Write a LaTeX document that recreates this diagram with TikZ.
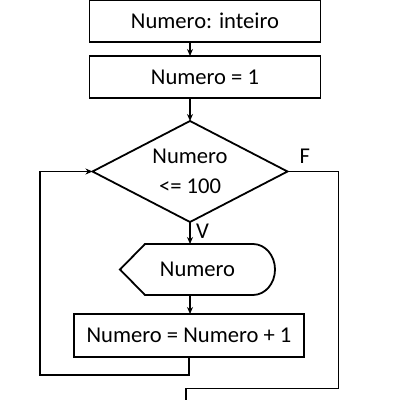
\documentclass[tikz,border=0pt]{standalone}
\usepackage{fontspec}
\setmainfont{Carlito}
\usetikzlibrary{calc, arrows.meta, positioning, shapes.geometric}

\begin{document}
\begin{tikzpicture}[x=0.5pt, y=-0.5pt, line width=0.9pt, >={Stealth[length=3.5pt,width=3pt]},
  every node/.style={font=\fontsize{11.3}{14}\selectfont, outer sep=0pt},
  passo/.style={draw, rectangle, minimum width=115.5pt, minimum height=21pt, inner sep=0pt},
  decisao/.style={draw, diamond, aspect=2, inner sep=0pt, minimum width=97.5pt, minimum height=50.5pt, align=center},
  rotulo/.style={inner sep=1pt}]
\useasboundingbox (0,0) rectangle (400,400);

  \node (decl) [passo] at (205,21) {Numero: inteiro};
  \node (init) [passo, below=7pt of decl] {Numero = 1};
  \node (cond) [decisao, below=11.5pt of init, xshift=-7.5pt] {Numero\\[1pt]<= 100};
  \node (disp) [minimum width=77.5pt, minimum height=25.5pt, inner sep=0pt, below=11pt of cond, xshift=3.75pt] {Numero};
  \node (incr) [passo, minimum width=115pt, minimum height=21.5pt, below=9.5pt of disp, xshift=-4.25pt] {Numero = Numero + 1};
  \coordinate (fim) at (186,402);

  % display
  \draw ($(disp.west)$) -- ($(disp.north west)+(25,0)$) -- ($(disp.north east)+(-22,0)$)
    arc[start angle=90, end angle=-90, x radius=22, y radius=-25.5] -- ($(disp.south west)+(25,0)$) -- cycle;

  \node (f) [rotulo, above right=3pt and 5pt of cond.east] {F};
  \node (v) [rotulo, below right=0pt and 2pt of cond.south] {V};

  \draw[->] (decl.south -| cond) -- (init.north -| cond);
  \draw[->] (init.south -| cond) -- (cond.north);
  \draw[->] (cond.south) -- (cond.south |- disp.north);
  \draw[->] (disp.south -| cond) -- (incr.north -| cond);
  \draw[->] (incr.south) -- ++(0,18) -- ++(-149,0) |- (cond.west);
  \draw (cond.east) -- ++(51,0) -- ++(0,217) -| (fim);
\end{tikzpicture}
\end{document}
